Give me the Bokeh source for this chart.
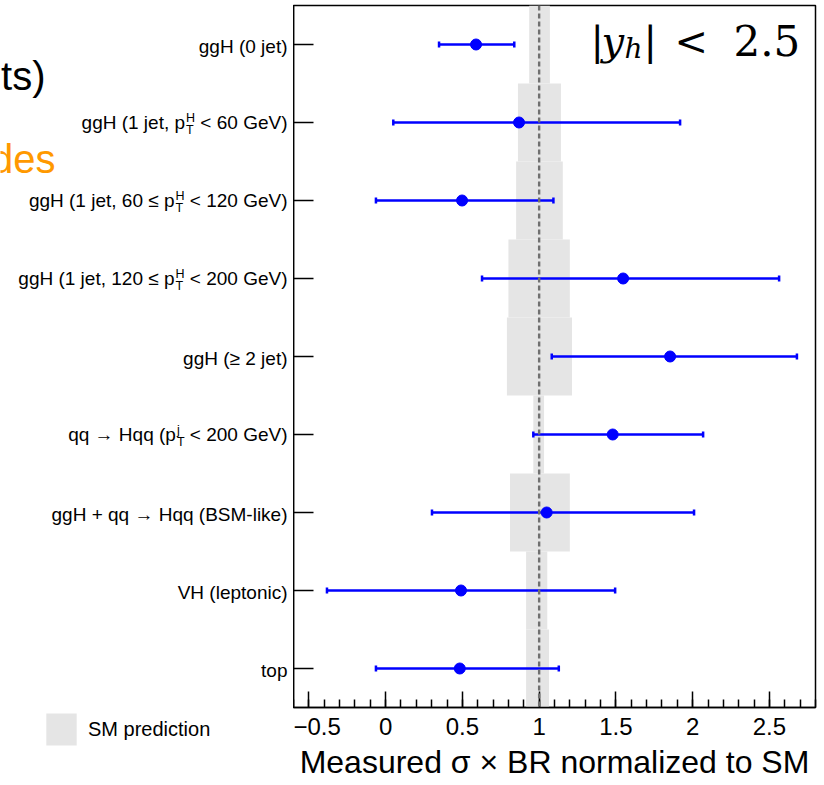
import numpy as np
from bokeh.plotting import figure
from bokeh.layouts import row
from bokeh.models import Range1d, FixedTicker, Span, Legend, LegendItem
from bokeh.core.properties import value
from bokeh.embed import file_html
from bokeh.resources import INLINE

# ---------------- data ----------------
CATEGORY_LABELS = [
    ("ggH (0 jet)", "", "", ""),
    ("ggH (1 jet, p", "H", "T", "< 60 GeV)"),
    ("ggH (1 jet, 60 \u2264 p", "H", "T", "< 120 GeV)"),
    ("ggH (1 jet, 120 \u2264 p", "H", "T", "< 200 GeV)"),
    ("ggH (\u2265 2 jet)", "", "", ""),
    ("qq \u2192 Hqq (p", "j", "T", "< 200 GeV)"),
    ("ggH + qq \u2192 Hqq (BSM-like)", "", "", ""),
    ("VH (leptonic)", "", "", ""),
    ("top", "", "", ""),
]
MEASURED = [0.589, 0.869, 0.498, 1.547, 1.853, 1.479, 1.049, 0.491, 0.483]
ERR_LO = [0.348, 0.050, -0.063, 0.628, 1.082, 0.962, 0.302, -0.382, -0.063]
ERR_HI = [0.838, 1.918, 1.093, 2.563, 2.679, 2.068, 2.009, 1.495, 1.128]
SM_LO = [0.935, 0.862, 0.850, 0.800, 0.790, 0.962, 0.810, 0.915, 0.915]
SM_HI = [1.070, 1.142, 1.154, 1.200, 1.214, 1.032, 1.200, 1.053, 1.064]
SM_VALUE = 1.0
X_TICKS = [-0.5, 0.0, 0.5, 1.0, 1.5, 2.0, 2.5]
X_TICK_LABELS = ["\u22120.5", "0", "0.5", "1", "1.5", "2", "2.5"]
X_START, X_END = -0.6, 2.8
X_TITLE = "Measured \u03c3 \u00d7 BR normalized to SM"
LEGEND_LABEL = "SM prediction"
SIDE_TEXTS = [("ts)", "black"), ("des", "#ff9900")]

FONT = "Liberation Sans"
BLUE = "#0000ff"
GREY = "#e5e5e5"

# ---------------- layout constants (pixels) ----------------
W, H = 824, 785
LEFT_W = 293
RIGHT_B = 9
TOP_B = 5
BOTTOM_B = 78
FRAME_H = H - TOP_B - BOTTOM_B
n = len(CATEGORY_LABELS)
ROW_PX = FRAME_H / n
Y_TOP = -0.5


def px_to_y(py):
    return Y_TOP + (py - TOP_B) / ROW_PX


ARIAL_W = {" ": 278, "(": 333, ")": 333, "<": 584, "0": 556, "1": 556, "2": 556,
           "3": 556, "4": 556, "5": 556, "6": 556, "7": 556, "8": 556, "9": 556,
           "G": 778, "e": 556, "V": 667, "H": 722, "T": 611, "j": 222}


def tw(s, size):
    return sum(ARIAL_W.get(c, 556) for c in s) * size / 1000.0


def no_align(fig):
    try:
        fig.frame_align = False
    except AttributeError:
        pass


ypos = list(range(n))

# ================= main plot =================
p = figure(width=W - LEFT_W, height=H, x_range=Range1d(X_START, X_END),
           y_range=Range1d(n - 0.5, Y_TOP), output_backend="svg",
           toolbar_location=None, min_border_left=0, min_border_right=RIGHT_B,
           min_border_top=TOP_B, min_border_bottom=BOTTOM_B)
no_align(p)
p.xgrid.visible = False
p.ygrid.visible = False
p.outline_line_color = "black"
p.outline_line_width = 1.5
p.background_fill_color = "white"
p.border_fill_color = "white"

FRAME_W = W - LEFT_W - RIGHT_B
PX_PER_X = FRAME_W / (X_END - X_START)


def px_to_x(px):
    return X_START + (px - LEFT_W) / PX_PER_X


p.quad(left=SM_LO, right=SM_HI, top=[y - 0.5 for y in ypos],
       bottom=[y + 0.5 for y in ypos], fill_color=GREY, line_color=None)

p.add_layout(Span(location=SM_VALUE, dimension="height", line_color="#707070",
                  line_width=2.4, line_dash="5 3"))

p.segment(x0=ERR_LO, y0=ypos, x1=ERR_HI, y1=ypos, line_color=BLUE, line_width=2.5)
p.scatter(x=ERR_LO + ERR_HI, y=ypos + ypos, marker="dash", angle=np.pi / 2,
          size=6, line_color=BLUE, line_width=2.5)
p.scatter(x=MEASURED, y=ypos, size=11, fill_color=BLUE, line_color=BLUE)

xa = p.xaxis[0]
minor = [round(v, 2) for v in np.arange(X_START, X_END + 0.001, 0.1)]
xa.ticker = FixedTicker(ticks=X_TICKS, minor_ticks=minor)
xa.major_label_overrides = {t: l for t, l in zip(X_TICKS, X_TICK_LABELS)}
xa.major_tick_in = 16
xa.major_tick_out = 0
xa.minor_tick_in = 8
xa.minor_tick_out = 0
xa.axis_line_width = 1.5
xa.major_tick_line_width = 1.5
xa.minor_tick_line_width = 1.5
xa.major_label_text_font = FONT
xa.major_label_text_font_size = "24px"
xa.major_label_text_color = "black"
xa.major_label_standoff = 10
xa.axis_label = X_TITLE
xa.axis_label_text_font = FONT
xa.axis_label_text_font_size = "32px"
xa.axis_label_text_font_style = "normal"
xa.axis_label_text_color = "black"
xa.axis_label_standoff = 6

ya = p.yaxis[0]
ya.ticker = FixedTicker(ticks=ypos)
ya.major_label_overrides = {y: "" for y in ypos}
ya.major_label_standoff = 0
ya.major_tick_in = 20
ya.major_tick_out = 0
ya.minor_tick_in = 0
ya.minor_tick_out = 0
ya.axis_line_width = 1.5
ya.major_tick_line_width = 1.5

# |y_h| < 2.5 (pixel anchors: left edge, baseline as used by bokeh's text glyph)
MATH = [("|", "normal", 40, 590, 40), ("y", "italic", 40, 601, 40),
        ("h", "italic", 28, 624, 48), ("|", "normal", 40, 643, 40),
        ("<", "normal", 40, 674, 40), ("2.5", "normal", 42, 733, 40)]
for txt, style, size, px, py in MATH:
    p.text(x=[px_to_x(px)], y=[px_to_y(py)], text=[txt], text_align="left",
           text_baseline="alphabetic", text_font=value("DejaVu Serif"),
           text_font_style=style, text_font_size=value(f"{size}px"),
           text_color="black")

# ================= label panel (frame = whole panel) =================
left = figure(width=LEFT_W, height=H, x_range=Range1d(0, LEFT_W),
              y_range=Range1d(px_to_y(H), px_to_y(0)), output_backend="svg",
              toolbar_location=None, x_axis_location=None, y_axis_location=None,
              min_border_left=0, min_border_right=0, min_border_top=0,
              min_border_bottom=0)
no_align(left)
left.xgrid.visible = False
left.ygrid.visible = False
left.outline_line_color = None
left.background_fill_color = "white"
left.border_fill_color = "white"

MAIN_SIZE = 19
SCRIPT_SIZE = 12.5
GAP = 6
mx, my, mt, moff = [], [], [], []
sx, sy, st, soff = [], [], [], []
for y, (prefix, sup, sub, suffix) in zip(ypos, CATEGORY_LABELS):
    base = 1.5 if not sup else 0
    xr = LEFT_W - GAP
    if suffix:
        mx.append(xr); my.append(y); mt.append(suffix); moff.append(base)
        xr -= tw(suffix, MAIN_SIZE) + tw(" ", MAIN_SIZE)
    if sup or sub:
        sw = max(tw(sup, SCRIPT_SIZE), tw(sub, SCRIPT_SIZE))
        xr -= sw
        sx += [xr, xr]; sy += [y, y]; st += [sup, sub]
        soff += [base - 4.5, base + 7.5]
        xr -= 1
    mx.append(xr); my.append(y); mt.append(prefix); moff.append(base)

left.text(x=mx, y=my, text=mt, y_offset=moff, text_align="right",
          text_baseline="alphabetic", text_font=value(FONT),
          text_font_size=value(f"{MAIN_SIZE}px"), text_color="black")
left.text(x=sx, y=sy, text=st, y_offset=soff, text_align="left",
          text_baseline="alphabetic", text_font=value(FONT),
          text_font_size=value(f"{SCRIPT_SIZE}px"), text_color="black")

left.text(x=[45, 55], y=[px_to_y(75), px_to_y(158)], text=[t for t, _ in SIDE_TEXTS],
          text_color=[c for _, c in SIDE_TEXTS], text_align="right",
          text_baseline="alphabetic", text_font=value(FONT),
          text_font_size=value("40px"))

# legend swatch: bokeh insets area glyphs by 10 %, so the glyph box is enlarged
sw_r = left.quad(left=[np.nan], right=[np.nan], top=[np.nan], bottom=[np.nan],
                 fill_color=GREY, line_color=None)
legend = Legend(items=[LegendItem(label=LEGEND_LABEL, renderers=[sw_r])],
                location=(42, H - 749), glyph_width=38, glyph_height=40,
                label_text_font=FONT, label_text_font_size="20px",
                label_text_color="black", label_standoff=8,
                padding=0, margin=0, border_line_alpha=0, background_fill_alpha=0)
left.add_layout(legend)

layout = row(left, p, spacing=0)
open("out.html", "w").write(file_html(layout, INLINE))
